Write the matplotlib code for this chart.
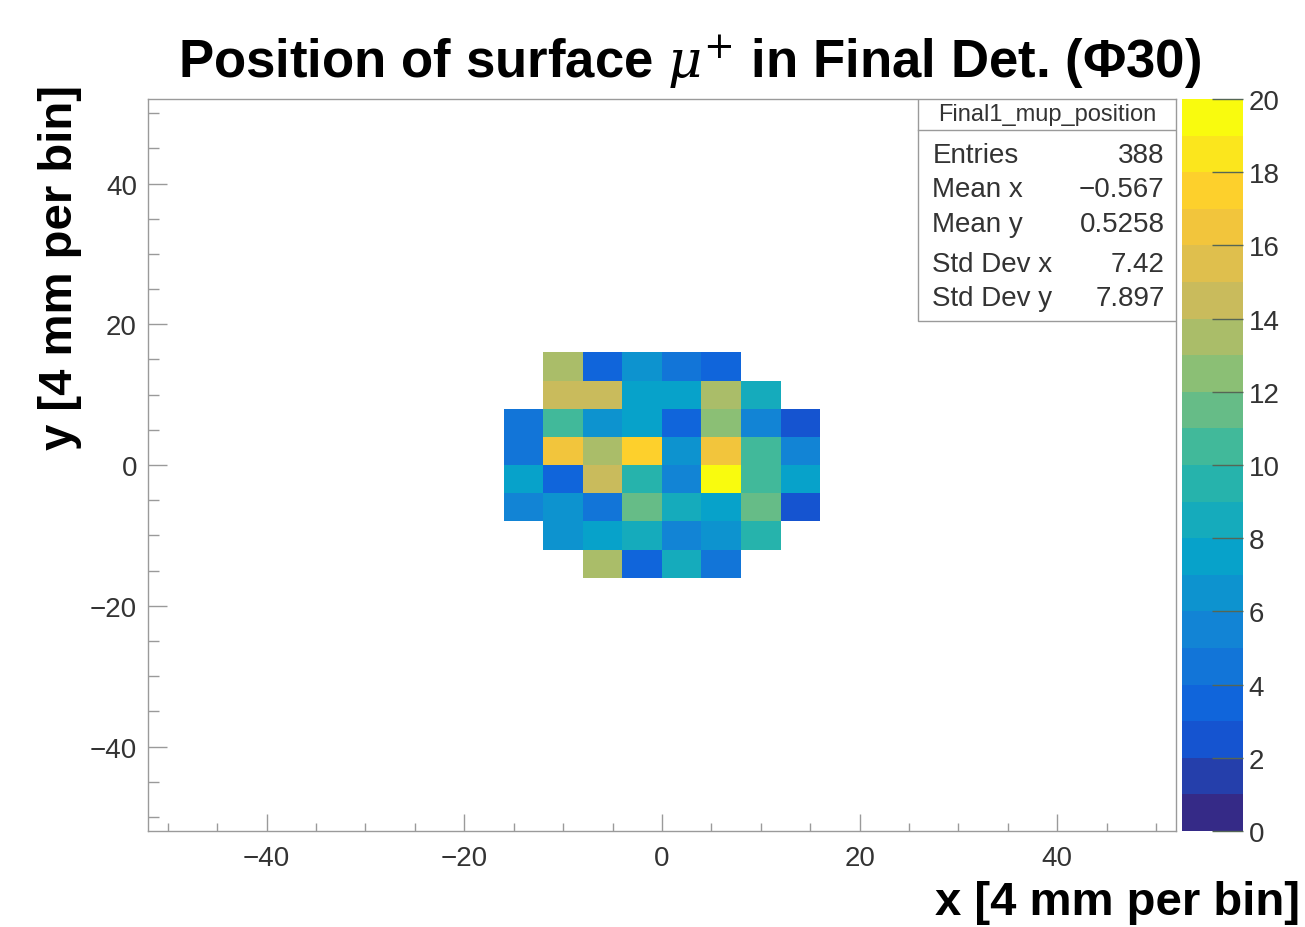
import numpy as np
import matplotlib
matplotlib.use("Agg")
import matplotlib.pyplot as plt
from matplotlib.colors import LinearSegmentedColormap, BoundaryNorm
from matplotlib.patches import Rectangle

plt.rcParams['font.family'] = ['Liberation Sans', 'DejaVu Sans']
plt.rcParams['mathtext.fontset'] = 'dejavuserif'

# Bin edges of the filled region (4 mm per bin)
x_edges = [-16, -12, -8, -4, 0, 4, 8, 12, 16]
y_edges = [-16, -12, -8, -4, 0, 4, 8, 12, 16]

# Counts per bin, one list per row (x from -16 to 16), 0 = empty bin
row_y_m16 = [0, 0, 13, 3, 8, 4, 0, 0]
row_y_m12 = [0, 6, 7, 8, 5, 6, 9, 0]
row_y_m8 = [5, 6, 4, 11, 8, 7, 11, 2]
row_y_m4 = [7, 3, 14, 9, 5, 20, 10, 7]
row_y_0 = [4, 16, 13, 17, 6, 16, 10, 5]
row_y_4 = [4, 10, 6, 7, 3, 12, 5, 2]
row_y_8 = [0, 14, 14, 7, 7, 13, 8, 0]
row_y_12 = [0, 13, 3, 6, 4, 3, 0, 0]

stats_labels = ["Entries", "Mean x", "Mean y", "Std Dev x", "Std Dev y"]
stats_values = ["388", "\u22120.567", "0.5258", "7.42", "7.897"]

# ROOT kBird palette
bird_stops = [0.0, 0.125, 0.25, 0.375, 0.5, 0.625, 0.75, 0.875, 1.0]
bird_r = [0.2082, 0.0592, 0.0780, 0.0232, 0.1802, 0.5301, 0.8186, 0.9956, 0.9764]
bird_g = [0.1664, 0.3599, 0.5041, 0.6419, 0.7178, 0.7492, 0.7328, 0.7862, 0.9832]
bird_b = [0.5293, 0.8684, 0.8385, 0.7914, 0.6425, 0.4662, 0.3499, 0.1968, 0.0539]
bird = LinearSegmentedColormap.from_list(
    "bird", list(zip(bird_stops, zip(bird_r, bird_g, bird_b))))
levels = np.arange(0, 21, 1)
cmap = bird.resampled(len(levels) - 1)
norm = BoundaryNorm(levels, cmap.N)

counts = np.array([row_y_m16, row_y_m12, row_y_m8, row_y_m4,
                   row_y_0, row_y_4, row_y_8, row_y_12], dtype=float)
counts = np.ma.masked_equal(counts, 0)

fig = plt.figure(figsize=(13.05, 9.28), dpi=100)
ax = fig.add_axes([0.1134, 0.1034, 0.7877, 0.7888])
cax = fig.add_axes([0.9057, 0.1034, 0.0467, 0.7888])

mesh = ax.pcolormesh(x_edges, y_edges, counts, cmap=cmap, norm=norm)
ax.set_xlim(-52, 52)
ax.set_ylim(-52, 52)

frame_grey = '#9a9a9a'
for side, sp in ax.spines.items():
    sp.set_color(frame_grey)
    sp.set_linewidth(1.0)
ax.set_xticks(np.arange(-40, 41, 20))
ax.set_yticks(np.arange(-40, 41, 20))
ax.set_xticks(np.arange(-50, 51, 5), minor=True)
ax.set_yticks(np.arange(-50, 51, 5), minor=True)
ax.tick_params(which='major', direction='in', width=1.0, color=frame_grey,
               labelsize=20, labelcolor='#333333')
ax.tick_params(which='minor', direction='in', width=1.0, color=frame_grey)
ax.tick_params(axis='x', which='major', length=12, pad=10)
ax.tick_params(axis='x', which='minor', length=6)
ax.tick_params(axis='y', which='major', length=14, pad=8)
ax.tick_params(axis='y', which='minor', length=8)

# stats box
ax.add_patch(Rectangle((0.749, 0.697), 0.251, 0.303, transform=ax.transAxes,
                       facecolor='white', edgecolor=frame_grey, lw=1.0, zorder=5))
ax.plot([0.749, 1.0], [0.958, 0.958], transform=ax.transAxes, color=frame_grey,
        lw=1.0, zorder=6)
ax.text(0.8745, 0.979, "Final1_mup_position", transform=ax.transAxes,
        ha='center', va='center', fontsize=17, color='#333333', zorder=7)
stats_y = [0.923, 0.877, 0.829, 0.774, 0.728]
for lab, val, yy in zip(stats_labels, stats_values, stats_y):
    ax.text(0.763, yy, lab, transform=ax.transAxes, ha='left', va='center',
            fontsize=20, color='#333333', zorder=7)
    ax.text(0.989, yy, val, transform=ax.transAxes, ha='right', va='center',
            fontsize=20, color='#333333', zorder=7)

# colour bar
cb = fig.colorbar(mesh, cax=cax, ticks=np.arange(0, 21, 2))
cb.outline.set_visible(False)
cax.tick_params(direction='in', length=22, width=1.0, color='#556655',
                labelsize=20, labelcolor='#333333', pad=4)
cax.minorticks_off()

fig.text(0.528, 0.933, "Position of surface $\\mu^{+}$ in Final Det. (\u03a630)",
         ha='center', va='center', fontsize=38, fontweight='bold')
fig.text(0.046, 0.712, "y [4 mm per bin]", rotation=90, ha='center', va='center',
         fontsize=34, fontweight='bold')
fig.text(0.996, 0.027, "x [4 mm per bin]", ha='right', va='center',
         fontsize=34, fontweight='bold')

fig.savefig("out.png", dpi=100)
